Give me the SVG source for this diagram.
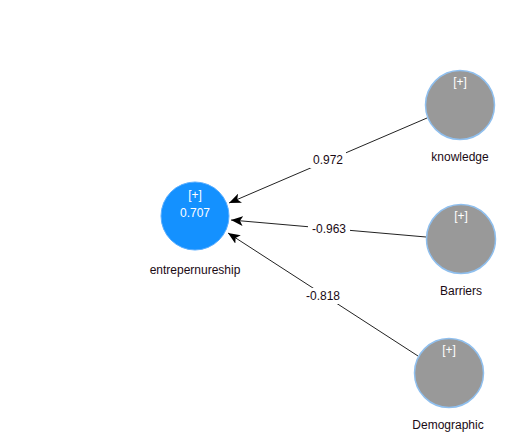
<svg xmlns="http://www.w3.org/2000/svg" width="516" height="438" viewBox="0 0 516 438">
<defs>
<marker id="arr" viewBox="0 0 12 10" refX="12" refY="5" markerWidth="12" markerHeight="10" markerUnits="userSpaceOnUse" orient="auto">
<path d="M0,0 L12,5 L0,10 L3,5 Z" fill="#000"/>
</marker>
<style>
.lv{fill:#999999;stroke:#8fbfee;stroke-width:1.5}
.main{fill:#1491ff;stroke:#5aaeff;stroke-width:1}
.in{font-family:"Liberation Sans",Arial,sans-serif;font-size:12px;fill:#fff;text-anchor:middle}
.lbl{font-family:"Liberation Sans",Arial,sans-serif;font-size:12px;fill:#1a0a14;text-anchor:middle}
.e{stroke:#222;stroke-width:1;fill:none;marker-end:url(#arr)}
.bg{fill:#fff}
</style>
</defs>
<rect width="516" height="438" fill="#fff"/>
<g id="connectors">
<line class="e" x1="427" y1="118" x2="229" y2="203"/>
<line class="e" x1="426" y1="237" x2="231" y2="220"/>
<line class="e" x1="418" y1="356" x2="228" y2="233"/>
<rect class="bg" x="310" y="152" width="36" height="16"/>
<text class="lbl" x="328" y="164">0.972</text>
<rect class="bg" x="308" y="221" width="42" height="16"/>
<text class="lbl" x="329" y="233">-0.963</text>
<rect class="bg" x="303" y="288" width="40" height="16"/>
<text class="lbl" x="323" y="300">-0.818</text>
</g>
<g id="entrepernureship">
<circle class="main" cx="195" cy="216" r="34"/>
<text class="in" x="195" y="199">[+]</text>
<text class="in" x="195" y="217">0.707</text>
<text class="lbl" x="195" y="274">entrepernureship</text>
</g>
<g id="knowledge">
<circle class="lv" cx="460" cy="105" r="34.5"/>
<text class="in" x="460" y="86">[+]</text>
<text class="lbl" x="460" y="161">knowledge</text>
</g>
<g id="Barriers">
<circle class="lv" cx="461" cy="239" r="34.5"/>
<text class="in" x="461" y="220">[+]</text>
<text class="lbl" x="461" y="295">Barriers</text>
</g>
<g id="Demographic">
<circle class="lv" cx="449" cy="373" r="34.5"/>
<text class="in" x="449" y="354">[+]</text>
<text class="lbl" x="448" y="429">Demographic</text>
</g>
</svg>
